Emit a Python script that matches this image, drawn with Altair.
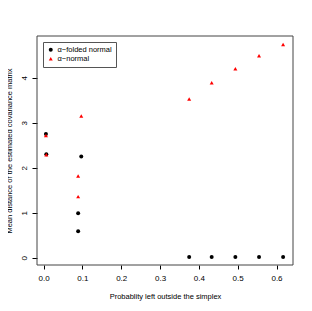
import altair as alt
import pandas as pd

x_vals = [0.006, 0.007, 0.089, 0.089, 0.097, 0.375, 0.433, 0.494, 0.555, 0.617]
folded_y = [2.75, 2.30, 0.59, 0.99, 2.25, 0.02, 0.02, 0.02, 0.02, 0.02]
normal_y = [2.72, 2.29, 1.36, 1.82, 3.15, 3.53, 3.89, 4.20, 4.49, 4.74]
series = ["α−folded normal", "α−normal"]
x_ticks = [0.0, 0.1, 0.2, 0.3, 0.4, 0.5, 0.6]
y_ticks = [0, 1, 2, 3, 4]

rows = []
for xv, yv in zip(x_vals, folded_y):
    rows.append({"x": xv, "y": yv, "s": series[0]})
for xv, yv in zip(x_vals, normal_y):
    rows.append({"x": xv, "y": yv, "s": series[1]})
df = pd.DataFrame(rows)

font = "Liberation Sans"
W, H = 256, 229

points = alt.Chart(df).mark_point(filled=True, opacity=1, size=16).encode(
    x=alt.X("x:Q", scale=alt.Scale(domain=[-0.017, 0.6425], nice=False, zero=False),
            axis=alt.Axis(values=x_ticks, format=".1f", title="Probablity left outside the simplex",
                          grid=False, domain=False, tickSize=4, tickColor="black",
                          labelPadding=5, titlePadding=10, labelFontSize=8, titleFontSize=7.5,
                          labelColor="black", titleColor="black", titleFontWeight="normal",
                          labelFont=font, titleFont=font)),
    y=alt.Y("y:Q", scale=alt.Scale(domain=[-0.16, 4.93], nice=False, zero=False),
            axis=alt.Axis(values=y_ticks, format="d", title="Mean distance of the estimated covariance matrix",
                          grid=False, domain=False, tickSize=5, tickColor="black",
                          labelAngle=270, labelAlign="center", labelBaseline="bottom",
                          labelPadding=4, titlePadding=7, labelFontSize=8, titleFontSize=7.5,
                          labelColor="black", titleColor="black", titleFontWeight="normal",
                          labelFont=font, titleFont=font)),
    color=alt.Color("s:N", scale=alt.Scale(domain=series, range=["black", "red"]),
                    legend=alt.Legend(title=None, orient="none", legendX=6, legendY=6,
                                      strokeColor="#555", padding=4, labelFontSize=7.5,
                                      labelFont=font, labelColor="black", symbolSize=16,
                                      rowPadding=0, labelOffset=3, symbolOffset=0)),
    shape=alt.Shape("s:N", scale=alt.Scale(domain=series, range=["circle", "triangle-up"]),
                    legend=None),
)

frame = alt.Chart(pd.DataFrame({"k": [0]})).mark_rect(
    fill=None, stroke="#444", strokeWidth=1
).encode(x=alt.value(0), x2=alt.value(W), y=alt.value(0), y2=alt.value(H))

chart = alt.layer(points, frame).properties(
    width=W, height=H,
    autosize=alt.AutoSizeParams(type="none"),
    padding={"left": 29, "top": 28, "right": 11, "bottom": 38},
    background="white",
).configure_view(strokeWidth=0)

chart.save("out.html", embed_options={"renderer": "svg", "actions": False})
